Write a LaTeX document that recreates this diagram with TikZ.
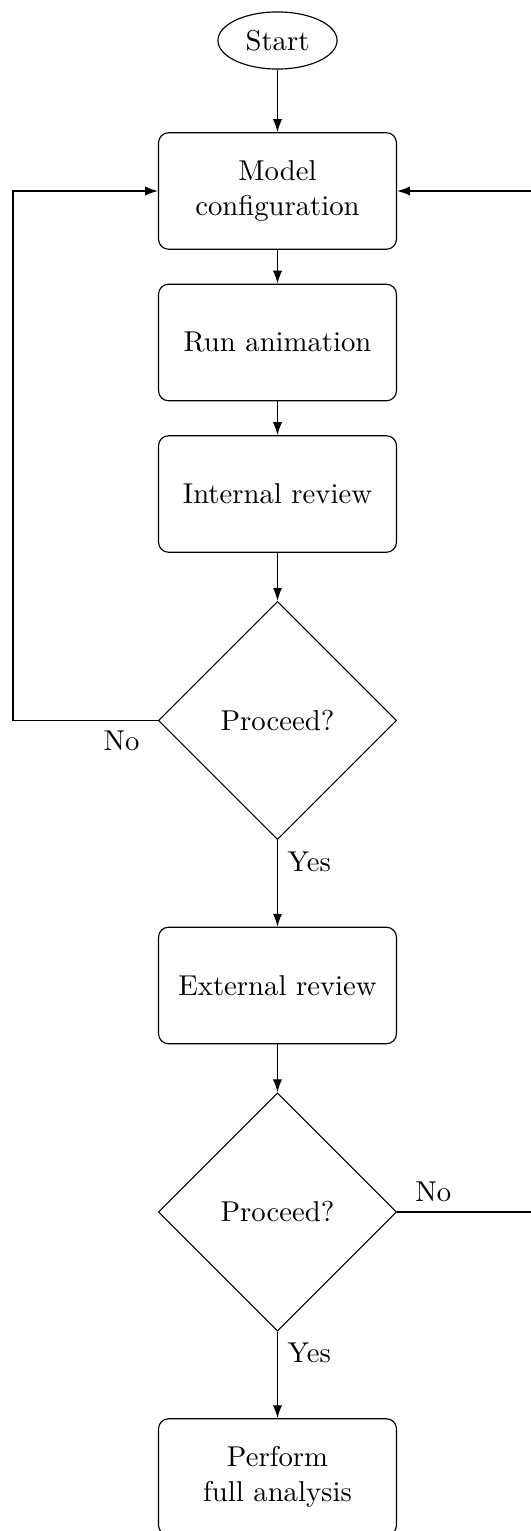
\documentclass[tikz,border=0pt]{standalone}
\usetikzlibrary{shapes.geometric,arrows.meta}
\begin{document}
\begin{tikzpicture}[x=0.3484pt,y=-0.3484pt,
  procbox/.style={draw,rounded corners=3.5pt,minimum width=82.9pt,minimum height=40.6pt,align=center,inner sep=0pt},
  decbox/.style={draw,diamond,aspect=1,minimum width=83pt,minimum height=83pt,inner sep=0pt},
  startbox/.style={draw,ellipse,minimum width=41.5pt,minimum height=19.9pt,inner sep=0pt},
  arr/.style={-{Latex[length=4.5pt,width=3.2pt]}},
  line width=0.4pt]
\useasboundingbox (0,0) rectangle (531,1531);
\node[startbox] (start) at (277.5,40.5) {Start};
\node[procbox] (model) at (277.5,191) {Model\\configuration};
\node[procbox] (run) at (277.5,342.5) {Run animation};
\node[procbox] (internal) at (277.5,494) {Internal review};
\node[decbox] (d1) at (277.5,720.5) {Proceed?};
\node[procbox] (external) at (277.5,985.5) {External review};
\node[decbox] (d2) at (277.5,1212) {Proceed?};
\node[procbox] (perform) at (277.5,1477) {Perform\\full analysis};
\coordinate (lc) at (13,720.5);
\coordinate (rc) at (542,1212);
\draw[arr] (start) -- (model);
\draw[arr] (model) -- (run);
\draw[arr] (run) -- (internal);
\draw[arr] (internal) -- (d1);
\draw[arr] (d1) -- node[pos=0.25,right]{Yes} (external);
\draw[arr] (external) -- (d2);
\draw[arr] (d2) -- node[pos=0.25,right]{Yes} (perform);
\draw[arr] (d1.west) -- node[pos=0.25,below]{No} (lc) |- (model.west);
\draw[arr] (d2.east) -- node[pos=0.25,above]{No} (rc) |- (model.east);
\end{tikzpicture}
\end{document}
